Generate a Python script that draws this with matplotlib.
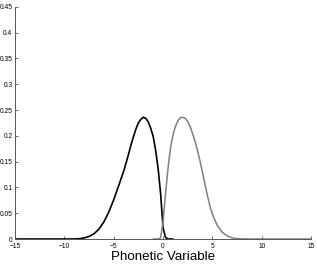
"""Two skewed category distributions along a phonetic dimension."""

import matplotlib
matplotlib.use("Agg")
import matplotlib.pyplot as plt

# values
black_x = [-15, -9.0, -8.5, -8.0, -7.5, -7.0, -6.5, -6.0, -5.5, -5.0, -4.5, -4.0,
           -3.75, -3.5, -3.25, -3.0, -2.75, -2.5, -2.25, -2.0, -1.75, -1.5,
           -1.25, -1.0, -0.75, -0.5, -0.25, 0.0, 0.25, 0.5, 1.0]
black_y = [0, 0, 0.0005, 0.002, 0.005, 0.010, 0.019, 0.033, 0.052, 0.076, 0.103,
           0.131, 0.147, 0.164, 0.182, 0.198, 0.213, 0.225, 0.232, 0.236, 0.234,
           0.227, 0.215, 0.199, 0.172, 0.137, 0.089, 0.022, 0.003, 0, 0]

gray_x = [-1.0, -0.5, -0.25, 0.0, 0.25, 0.5, 0.75, 1.0, 1.25, 1.5, 1.75, 2.0,
          2.25, 2.5, 2.75, 3.0, 3.25, 3.5, 3.75, 4.0, 4.25, 4.5, 4.75, 5.0,
          5.5, 6.0, 6.5, 7.0, 7.5, 8.0, 9.0, 15]
gray_y = [0, 0, 0.002, 0.033, 0.087, 0.136, 0.176, 0.201, 0.218, 0.229, 0.235,
          0.236, 0.234, 0.228, 0.218, 0.204, 0.189, 0.171, 0.151, 0.129, 0.106,
          0.084, 0.064, 0.048, 0.026, 0.013, 0.006, 0.002, 0.0008, 0.0002, 0, 0]

x_ticks = [-15, -10, -5, 0, 5, 10, 15]
y_ticks = [0, 0.05, 0.1, 0.15, 0.2, 0.25, 0.3, 0.35, 0.4, 0.45]

plt.rcParams["font.family"] = ["Liberation Sans", "DejaVu Sans"]

fig = plt.figure(figsize=(3.17, 2.65), dpi=100)
ax = fig.add_axes([0.0473, 0.0981, 0.934, 0.876])

ax.plot(black_x, black_y, color="black", linewidth=1.2, solid_capstyle="round")
ax.plot(gray_x, gray_y, color="#808080", linewidth=1.1, solid_capstyle="round")

ax.set_xlim(-15, 15)
ax.set_ylim(0, 0.45)
ax.set_xticks(x_ticks)
ax.set_yticks(y_ticks)
ax.set_yticklabels([f"{t:g}" for t in y_ticks])

for side in ("top", "right"):
    ax.spines[side].set_visible(False)
for side in ("left", "bottom"):
    ax.spines[side].set_color("#555555")
    ax.spines[side].set_linewidth(0.7)

ax.tick_params(direction="in", length=2.5, width=0.6, color="#555555",
               labelsize=4.8)
ax.tick_params(axis="x", pad=2.8)
ax.tick_params(axis="y", pad=1.8)
ax.set_xlabel("Phonetic Variable", fontsize=9.6, labelpad=0.8)

fig.savefig("out.png", dpi=100)
plt.close(fig)
